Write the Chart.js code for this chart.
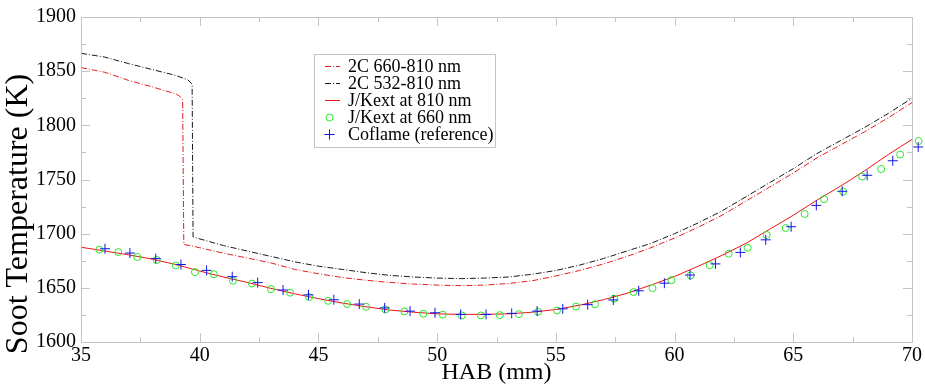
<!DOCTYPE html>
<html>
<head>
<meta charset="utf-8">
<script src="https://cdn.jsdelivr.net/npm/chart.js@4.4.1/dist/chart.umd.min.js"></script>
<style>
  html, body { margin: 0; padding: 0; background: #fff; }
</style>
</head>
<body>
<canvas id="tempChart" width="925" height="389"></canvas>
<script>
// 2C 660-810 nm (red dash-dot)
const hab2c660 = [35, 36, 37, 38, 39, 39.15, 39.28, 39.33, 39.6,
    40, 41, 42, 43, 44, 45, 46, 47, 48, 49, 50, 51, 52, 53, 54, 55,
    56, 57, 58, 59, 60, 61, 62, 63, 64, 65, 66, 67, 68, 69, 70];
const temp2c660 = [1853.3, 1849, 1841.5, 1835.5, 1829, 1827, 1824, 1690, 1689,
    1687, 1682, 1677.5, 1673, 1667, 1663, 1659.5, 1657, 1655, 1653.5, 1652.5, 1652, 1652.5, 1654, 1656.5, 1661,
    1666, 1672, 1679, 1687, 1696, 1706, 1717, 1730, 1743, 1756, 1770, 1782, 1794, 1807, 1821];

// 2C 532-810 nm (black dash-dot)
const hab2c532 = [35, 36, 37, 38, 39, 39.5, 39.68, 39.72, 39.95,
    41, 42, 43, 44, 45, 46, 47, 48, 49, 50, 51, 52, 53, 54, 55,
    56, 57, 58, 59, 60, 61, 62, 63, 64, 65, 66, 67, 68, 69, 70];
const temp2c532 = [1866.5, 1863, 1857, 1851.5, 1846, 1842, 1838, 1697, 1695.5,
    1689, 1684, 1679, 1674, 1670, 1667, 1664, 1661.5, 1660, 1659, 1658.5, 1659, 1660, 1662.5, 1666,
    1671, 1677, 1684, 1691, 1700, 1710, 1721, 1734, 1747, 1760, 1774, 1786, 1798, 1811, 1825];

// J/Kext at 810 nm (red solid)
const hab810 = [35, 36, 37, 38, 39, 40, 41, 42, 43, 44, 45, 46, 47, 48, 49, 50, 51, 52,
    53, 54, 55, 56, 57, 58, 59, 60, 61, 62, 63, 64, 65, 66, 67, 68, 69, 70];
const temp810 = [1687.5, 1684, 1680.5, 1676.5, 1671.5, 1665.5, 1660, 1655, 1649.5, 1644.5, 1640, 1636,
    1632.5, 1629.5, 1627.5, 1626, 1625.5, 1625.5, 1626, 1627.5, 1630, 1634, 1639, 1645,
    1652.5, 1660.5, 1670, 1680, 1691, 1704, 1717, 1731, 1744, 1758, 1773, 1787];

// J/Kext at 660 nm (green circles)
const hab660 = [35.77, 36.57, 37.37, 38.19, 38.99, 39.80, 40.60, 41.40, 42.20, 43.00,
    43.81, 44.61, 45.41, 46.21, 47.01, 47.82, 48.62, 49.42, 50.24, 51.04,
    51.84, 52.64, 53.44, 54.25, 55.05, 55.85, 56.65, 57.45, 58.27, 59.07,
    59.87, 60.68, 61.48, 62.28, 63.08, 63.88, 64.68, 65.48, 66.30, 67.10,
    67.90, 68.70, 69.50, 70.28];
const temp660 = [1685.2, 1683.0, 1678.5, 1675.7, 1670.6, 1664.5, 1662.5, 1656.6, 1653.9, 1648.8,
    1645.5, 1641.5, 1638, 1635, 1632.5, 1630, 1628.2, 1626.1, 1625.2, 1624.5,
    1624.5, 1624.8, 1625.7, 1627.9, 1629.1, 1632.7, 1634.8, 1640, 1646.1, 1649.7,
    1657.0, 1661.5, 1670.9, 1681.5, 1687.0, 1698.8, 1705.2, 1718.2, 1731.8, 1738.8,
    1752.7, 1759.7, 1773.0, 1785.5];

// Coflame (reference) (blue plus)
const habCoflame = [36.01, 37.06, 38.15, 39.21, 40.29, 41.37, 42.44, 43.51, 44.58, 45.65,
    46.72, 47.79, 48.86, 49.91, 50.99, 52.06, 53.14, 54.21, 55.29, 56.34,
    57.42, 58.49, 59.57, 60.65, 61.72, 62.77, 63.84, 64.91, 65.97, 67.06,
    68.11, 69.19, 70.26];
const tempCoflame = [1686.1, 1682.1, 1677.0, 1671.5, 1666.1, 1660.3, 1654.8, 1648, 1643.5, 1639,
    1635, 1631.5, 1628.5, 1627.0, 1625.5, 1625.5, 1626.4, 1628.5, 1630.6, 1634.5,
    1638.8, 1647.3, 1654.3, 1661.8, 1672.1, 1682.7, 1694.3, 1706.4, 1726.1, 1739.1,
    1753.9, 1767.3, 1780];

const xTicks = [35, 40, 45, 50, 55, 60, 65, 70];
const yTicks = [1600, 1650, 1700, 1750, 1800, 1850, 1900];

const axisGray = '#c4c4c4';
const serif = '"Liberation Serif", "Times New Roman", serif';

const pts = (xs, ys) => xs.map((v, i) => ({x: v, y: ys[i]}));

// frame + inward ticks on all four sides, like the original plot
const frameTicks = {
    id: 'frameTicks',
    afterDatasetsDraw(chart) {
        const {ctx, chartArea: a, scales: {x, y}} = chart;
        ctx.save();
        ctx.strokeStyle = axisGray;
        ctx.lineWidth = 1;
        ctx.beginPath();
        for (let v = 35; v <= 70; v += 2.5) {
            const px = Math.round(x.getPixelForValue(v)) + 0.5;
            const len = xTicks.includes(v) ? 9 : 5;
            ctx.moveTo(px, a.bottom); ctx.lineTo(px, a.bottom - len);
            ctx.moveTo(px, a.top); ctx.lineTo(px, a.top + len);
        }
        for (let v = 1600; v <= 1900; v += 25) {
            const py = Math.round(y.getPixelForValue(v)) + 0.5;
            const len = yTicks.includes(v) ? 9 : 5;
            ctx.moveTo(a.left, py); ctx.lineTo(a.left + len, py);
            ctx.moveTo(a.right, py); ctx.lineTo(a.right - len, py);
        }
        ctx.stroke();
        ctx.strokeRect(Math.round(a.left) + 0.5, Math.round(a.top) + 0.5,
            Math.round(a.right - a.left), Math.round(a.bottom - a.top));
        ctx.restore();
    }
};

// y title sits a bit lower than the plot centre in the original
const yTitle = {
    id: 'yTitle',
    afterDraw(chart) {
        const ctx = chart.ctx;
        ctx.save();
        ctx.translate(19, 214);
        ctx.rotate(-Math.PI / 2);
        ctx.font = '32px ' + serif;
        ctx.fillStyle = '#000';
        ctx.textAlign = 'center';
        ctx.textBaseline = 'middle';
        ctx.fillText('Soot Temperature (K)', 0, 0);
        ctx.restore();
    }
};

// boxed legend inside the plot area
const legendBox = {
    id: 'legendBox',
    afterDraw(chart) {
        const ctx = chart.ctx;
        const bx = 314, by = 54, bw = 181, bh = 93;
        ctx.save();
        ctx.fillStyle = '#fff';
        ctx.fillRect(bx, by, bw, bh);
        ctx.strokeStyle = axisGray;
        ctx.lineWidth = 1;
        ctx.strokeRect(bx + 0.5, by + 0.5, bw, bh);
        ctx.font = '18px ' + serif;
        ctx.textBaseline = 'middle';
        chart.data.datasets.forEach((ds, i) => {
            const cy = Math.round(66 + i * 17.1) + 0.5;
            ctx.strokeStyle = ds.borderColor;
            ctx.lineWidth = 1;
            if (ds.showLine) {
                ctx.setLineDash(ds.borderDash || []);
                ctx.beginPath();
                ctx.moveTo(325, cy); ctx.lineTo(340, cy);
                ctx.stroke();
                ctx.setLineDash([]);
            } else if (ds.pointStyle === 'circle') {
                ctx.beginPath();
                ctx.arc(329.5, cy, ds.pointRadius, 0, Math.PI * 2);
                ctx.stroke();
            } else {
                const r = ds.pointRadius;
                ctx.beginPath();
                ctx.moveTo(329.5 - r, cy); ctx.lineTo(329.5 + r, cy);
                ctx.moveTo(329.5, cy - r); ctx.lineTo(329.5, cy + r);
                ctx.stroke();
            }
            ctx.fillStyle = '#000';
            ctx.fillText(ds.label, 348, cy + 1);
        });
        ctx.restore();
    }
};

const ctxTemp = document.getElementById('tempChart').getContext('2d');
const tempChart = new Chart(ctxTemp, {
    type: 'scatter',
    data: {
        datasets: [
            {
                label: '2C 660-810 nm',
                data: pts(hab2c660, temp2c660),
                showLine: true,
                borderColor: 'rgb(228, 30, 30)',
                borderWidth: 1,
                borderDash: [6, 2, 1, 2],
                pointRadius: 0,
                order: 4,
            },
            {
                label: '2C 532-810 nm',
                data: pts(hab2c532, temp2c532),
                showLine: true,
                borderColor: 'rgb(25, 25, 25)',
                borderWidth: 1,
                borderDash: [6, 2, 1, 2],
                pointRadius: 0,
                order: 5,
            },
            {
                label: 'J/Kext at 810 nm',
                data: pts(hab810, temp810),
                showLine: true,
                borderColor: 'rgb(235, 20, 20)',
                borderWidth: 1,
                pointRadius: 0,
                order: 3,
            },
            {
                label: 'J/Kext at 660 nm',
                data: pts(hab660, temp660),
                showLine: false,
                pointStyle: 'circle',
                pointRadius: 3.5,
                pointHoverRadius: 10,
                borderColor: 'rgb(40, 230, 40)',
                backgroundColor: 'rgba(0, 0, 0, 0)',
                pointBorderWidth: 1,
                clip: false,
                order: 2,
            },
            {
                label: 'Coflame (reference)',
                data: pts(habCoflame, tempCoflame),
                showLine: false,
                pointStyle: 'cross',
                pointRadius: 5,
                pointHoverRadius: 10,
                borderColor: 'rgb(20, 20, 235)',
                pointBorderWidth: 1,
                clip: false,
                order: 1,
            },
        ],
    },
    options: {
        responsive: false,
        animation: false,
        events: [],
        layout: {
            padding: {top: 12, right: 13, bottom: 0, left: 0},
        },
        scales: {
            x: {
                type: 'linear',
                min: 35,
                max: 70,
                afterFit: (s) => { s.height = 47; },
                afterBuildTicks: (s) => { s.ticks = xTicks.map(v => ({value: v})); },
                grid: {display: false, drawTicks: false},
                border: {display: false},
                ticks: {
                    padding: 2,
                    color: '#000',
                    font: {family: serif, size: 20},
                    callback: (v) => String(v),
                },
                title: {
                    display: true,
                    text: 'HAB (mm)',
                    color: '#000',
                    padding: {top: 0, bottom: 2},
                    font: {family: serif, size: 24},
                },
            },
            y: {
                min: 1600,
                max: 1900,
                afterFit: (s) => { s.width = 81; },
                afterBuildTicks: (s) => { s.ticks = yTicks.map(v => ({value: v})); },
                grid: {display: false, drawTicks: false},
                border: {display: false},
                ticks: {
                    padding: 5,
                    color: '#000',
                    font: {family: serif, size: 20},
                    callback: (v) => String(v),
                },
                title: {display: false},
            },
        },
        plugins: {
            legend: {display: false},
            tooltip: {enabled: false},
        },
    },
    plugins: [frameTicks, yTitle, legendBox],
});
</script>
</body>
</html>
